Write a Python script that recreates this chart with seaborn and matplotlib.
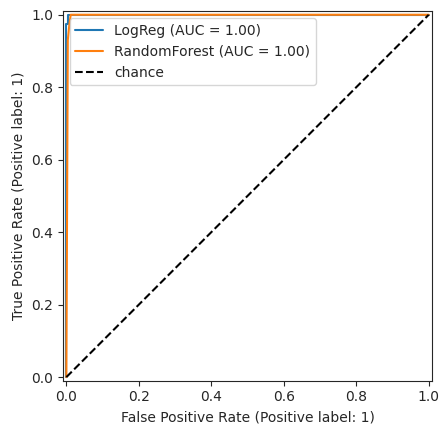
import matplotlib
matplotlib.use("Agg")
import matplotlib.pyplot as plt
import seaborn as sns

sns.set_style("ticks")
plt.rcParams['font.family'] = ['DejaVu Sans']

logreg_fpr = [0.0, 0.0, 0.0, 0.004, 0.004, 1.0]
logreg_tpr = [0.0, 0.02, 0.975, 0.975, 1.0, 1.0]
rf_fpr = [0.0, 0.0, 0.004, 0.008, 0.012, 1.0]
rf_tpr = [0.0, 0.0, 0.93, 0.97, 1.0, 1.0]
chance = [0.0, 1.0]

fig, ax = plt.subplots(figsize=(4.48, 4.34), dpi=100)
sns.lineplot(x=logreg_fpr, y=logreg_tpr, ax=ax, color="C0", sort=False,
             estimator=None, label="LogReg (AUC = 1.00)")
sns.lineplot(x=rf_fpr, y=rf_tpr, ax=ax, color="C1", sort=False,
             estimator=None, label="RandomForest (AUC = 1.00)")
ax.plot(chance, chance, "k--", label="chance")
ax.set_xlim(-0.01, 1.01)
ax.set_ylim(-0.01, 1.01)
ax.set_aspect("equal")
ax.set_xlabel("False Positive Rate (Positive label: 1)")
ax.set_ylabel("True Positive Rate (Positive label: 1)")
ax.legend(loc="upper left")
fig.subplots_adjust(left=0.14, right=0.965, bottom=0.12, top=0.977)
fig.savefig("out.png")
